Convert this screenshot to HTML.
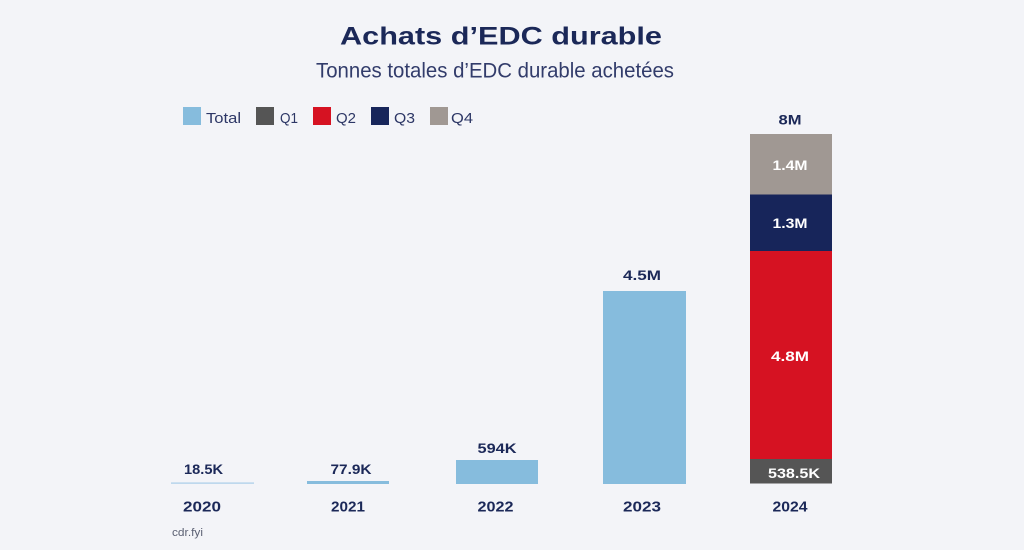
<!DOCTYPE html>
<html>
<head>
<meta charset="utf-8">
<style>
  html, body { margin: 0; padding: 0; background: #f3f4f8; }
  svg { display: block; }
  text { font-family: "Liberation Sans", sans-serif; }
</style>
</head>
<body>
<svg width="1024" height="550" viewBox="0 0 1024 550" xmlns="http://www.w3.org/2000/svg">
  <rect x="0" y="0" width="1024" height="550" fill="#f3f4f8"/>

  <!-- Title -->
  <text x="340" y="44.5" font-size="25" font-weight="bold" fill="#1b2858" textLength="322" lengthAdjust="spacingAndGlyphs">Achats d’EDC durable</text>
  <text x="316" y="77.5" font-size="21" fill="#323c6b" textLength="358" lengthAdjust="spacingAndGlyphs">Tonnes totales d’EDC durable achetées</text>

  <!-- Legend -->
  <rect x="183" y="107" width="18" height="18" fill="#86bcdd"/>
  <text x="206" y="123" font-size="15" fill="#2d3766" textLength="35" lengthAdjust="spacingAndGlyphs">Total</text>
  <rect x="256" y="107" width="18" height="18" fill="#555555"/>
  <text x="280" y="123" font-size="15" fill="#2d3766" textLength="18" lengthAdjust="spacingAndGlyphs">Q1</text>
  <rect x="313" y="107" width="18" height="18" fill="#d61222"/>
  <text x="336" y="123" font-size="15" fill="#2d3766" textLength="20" lengthAdjust="spacingAndGlyphs">Q2</text>
  <rect x="371" y="107" width="18" height="18" fill="#17255a"/>
  <text x="394" y="123" font-size="15" fill="#2d3766" textLength="21" lengthAdjust="spacingAndGlyphs">Q3</text>
  <rect x="430" y="107" width="18" height="18" fill="#a09893"/>
  <text x="451" y="123" font-size="15" fill="#2d3766" textLength="22" lengthAdjust="spacingAndGlyphs">Q4</text>

  <!-- Bars -->
  <rect x="171" y="482.5" width="83" height="1.2" fill="#a7cde8"/>
  <rect x="307" y="481" width="82" height="3" fill="#86bcdd"/>
  <rect x="456" y="460" width="82" height="24" fill="#86bcdd"/>
  <rect x="603" y="291" width="83" height="193" fill="#86bcdd"/>

  <rect x="750" y="134" width="82" height="60.5" fill="#a09893"/>
  <rect x="750" y="194.5" width="82" height="56.5" fill="#17255a"/>
  <rect x="750" y="251" width="82" height="208" fill="#d61222"/>
  <rect x="750" y="459" width="82" height="24.5" fill="#555555"/>

  <!-- Value labels -->
  <g font-size="14" font-weight="bold" fill="#1b2858" text-anchor="middle">
    <text x="203.5" y="474" textLength="39" lengthAdjust="spacingAndGlyphs">18.5K</text>
    <text x="351" y="474" textLength="41" lengthAdjust="spacingAndGlyphs">77.9K</text>
    <text x="497" y="453" textLength="39" lengthAdjust="spacingAndGlyphs">594K</text>
    <text x="642" y="280" textLength="38" lengthAdjust="spacingAndGlyphs">4.5M</text>
    <text x="790" y="124.5" textLength="23" lengthAdjust="spacingAndGlyphs">8M</text>
  </g>
  <g font-size="14" font-weight="bold" fill="#ffffff" text-anchor="middle">
    <text x="790" y="170" textLength="35" lengthAdjust="spacingAndGlyphs">1.4M</text>
    <text x="790" y="228" textLength="35" lengthAdjust="spacingAndGlyphs">1.3M</text>
    <text x="790" y="361" textLength="38" lengthAdjust="spacingAndGlyphs">4.8M</text>
    <text x="794" y="478" textLength="52" lengthAdjust="spacingAndGlyphs">538.5K</text>
  </g>

  <!-- Year labels -->
  <g font-size="15" font-weight="bold" fill="#1b2858" text-anchor="middle">
    <text x="202" y="511.7" textLength="38" lengthAdjust="spacingAndGlyphs">2020</text>
    <text x="348" y="511.7" textLength="34" lengthAdjust="spacingAndGlyphs">2021</text>
    <text x="495.5" y="511.7" textLength="36" lengthAdjust="spacingAndGlyphs">2022</text>
    <text x="642" y="511.7" textLength="38" lengthAdjust="spacingAndGlyphs">2023</text>
    <text x="790" y="511.7" textLength="35" lengthAdjust="spacingAndGlyphs">2024</text>
  </g>

  <!-- Source -->
  <text x="172" y="536" font-size="11" fill="#5a5f72" textLength="31" lengthAdjust="spacingAndGlyphs">cdr.fyi</text>
</svg>
</body>
</html>
